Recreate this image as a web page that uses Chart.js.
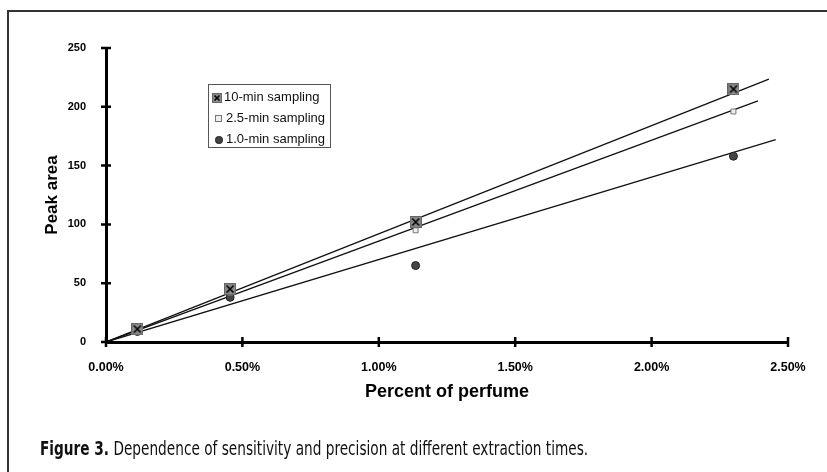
<!DOCTYPE html>
<html>
<head>
<meta charset="utf-8">
<script src="https://cdn.jsdelivr.net/npm/chart.js@4.4.1/dist/chart.umd.min.js"></script>
<style>
  body { margin: 0; background: #fff; }
  #wrap { position: relative; width: 827px; height: 472px; overflow: hidden; }
  #frame { position: absolute; left: 7px; top: 10px; width: 840px; height: 480px;
           border-left: 2px solid #333; border-top: 2px solid #333; }
  #legend { position: absolute; left: 208px; top: 84px; width: 121px; height: 62px;
            border: 1px solid #555; background: #fff;
            font: 13px "Liberation Sans", Arial, sans-serif; color: #111; }
  .row { position: absolute; left: 3px; height: 16px; line-height: 16px; white-space: nowrap; }
  .mk { display: inline-block; vertical-align: middle; margin-right: 2px; box-sizing: border-box; }
  #caption { position: absolute; left: 40px; top: 437px; white-space: nowrap;
             transform: scaleX(0.8); transform-origin: 0 0;
             font: 19px "DejaVu Sans Condensed", "DejaVu Sans", sans-serif; color: #111; }
  #caption b { font-weight: bold; }
</style>
</head>
<body>
<div id="wrap">
  <div id="frame"></div>
  <canvas id="chart" width="827" height="472" style="position:absolute;left:0;top:0"></canvas>
  <div id="legend">
    <div class="row" style="top:4px"><span class="mk" id="lg10"></span>10-min sampling</div>
    <div class="row" style="top:25px"><span class="mk" style="width:7px;height:7px;margin:0 4px 0 3px;background:#eee;border:1px solid #777"></span>2.5-min sampling</div>
    <div class="row" style="top:46px"><span class="mk" style="width:8px;height:8px;margin:0 3px 0 3px;background:#444;border:1px solid #222;border-radius:45%"></span>1.0-min sampling</div>
  </div>
  <div id="caption"><b>Figure 3.</b> Dependence of sensitivity and precision at different extraction times.</div>
</div>
<script>
// Percent of perfume (x) and peak areas
const percentPerfume = [0.115, 0.455, 1.135, 2.30];
const area10min = [11, 45, 102, 215];
const area25min = [10, 42, 95, 196];
const area1min = [9, 38, 65, 158];

// trend line end points (lines start at the origin)
const trendEndX = [2.43, 2.39, 2.455];
const trendEndY = [223.5, 205, 172];

const xTicks = [0, 0.5, 1, 1.5, 2, 2.5];
const yTicks = [0, 50, 100, 150, 200, 250];

// gray square with an X for the 10-min series
function crossBox(size) {
  const c = document.createElement('canvas');
  c.width = size; c.height = size;
  const g = c.getContext('2d');
  g.fillStyle = '#8a8a8a';
  g.fillRect(0, 0, size, size);
  g.strokeStyle = '#666';
  g.lineWidth = 1;
  g.strokeRect(0.5, 0.5, size - 1, size - 1);
  g.strokeStyle = '#000';
  g.lineWidth = 1.6;
  g.beginPath();
  g.moveTo(2.5, 2.5); g.lineTo(size - 2.5, size - 2.5);
  g.moveTo(size - 2.5, 2.5); g.lineTo(2.5, size - 2.5);
  g.stroke();
  return c;
}
const boxImg = crossBox(12);
const lg = document.getElementById('lg10');
lg.appendChild(crossBox(10));
lg.style.lineHeight = '0';

function pts(ys) {
  return percentPerfume.map((x, i) => ({ x: x, y: ys[i] }));
}
function trend(i) {
  return [{ x: 0, y: 0 }, { x: trendEndX[i], y: trendEndY[i] }];
}

// ticks that cross the axis line
const crossTicks = {
  id: 'crossTicks',
  afterDraw(chart) {
    const ctx = chart.ctx;
    const xs = chart.scales.x, ys = chart.scales.y;
    const area = chart.chartArea;
    ctx.save();
    ctx.strokeStyle = '#000';
    ctx.lineWidth = 2.5;
    ctx.beginPath();
    xTicks.forEach(v => {
      const px = xs.getPixelForValue(v);
      ctx.moveTo(px, area.bottom - 5);
      ctx.lineTo(px, area.bottom + 5);
    });
    yTicks.forEach(v => {
      const py = ys.getPixelForValue(v);
      ctx.moveTo(area.left - 5, py);
      ctx.lineTo(area.left + 5, py);
    });
    ctx.stroke();
    ctx.restore();
  }
};

const lineStyle = { type: 'line', borderColor: '#111', borderWidth: 1.3, pointRadius: 0, fill: false, order: 2 };

new Chart(document.getElementById('chart'), {
  type: 'scatter',
  data: {
    datasets: [
      { label: '10-min sampling', data: pts(area10min), pointStyle: boxImg, order: 0 },
      { label: '2.5-min sampling', data: pts(area25min), pointStyle: 'rect', pointRadius: 3.5,
        backgroundColor: '#eee', borderColor: '#777', borderWidth: 1, order: 0 },
      { label: '1.0-min sampling', data: pts(area1min), pointStyle: 'circle', pointRadius: 4,
        backgroundColor: '#444', borderColor: '#222', borderWidth: 1, order: 0 },
      Object.assign({ label: 'trend 10', data: trend(0) }, lineStyle),
      Object.assign({ label: 'trend 2.5', data: trend(1) }, lineStyle),
      Object.assign({ label: 'trend 1.0', data: trend(2) }, lineStyle)
    ]
  },
  options: {
    responsive: false,
    animation: false,
    layout: { padding: { left: 42, top: 48, right: 39, bottom: 69 } },
    plugins: { legend: { display: false }, tooltip: { enabled: false } },
    scales: {
      x: {
        type: 'linear', min: 0, max: 2.5,
        afterBuildTicks: s => { s.ticks = xTicks.map(v => ({ value: v })); },
        afterFit: s => { s.height = 61; },
        grid: { display: false },
        border: { display: true, color: '#000', width: 3 },
        ticks: { padding: 10, color: '#000', font: { family: 'Liberation Sans', size: 12.5, weight: 'bold' },
                 callback: v => v.toFixed(2) + '%', maxRotation: 0 },
        title: { display: true, text: 'Percent of perfume', color: '#000', padding: 0,
                 font: { family: 'Liberation Sans', size: 18, weight: 'bold' } }
      },
      y: {
        type: 'linear', min: 0, max: 250,
        afterBuildTicks: s => { s.ticks = yTicks.map(v => ({ value: v })); },
        afterFit: s => { s.width = 64; },
        grid: { display: false },
        border: { display: true, color: '#000', width: 3 },
        ticks: { padding: 12, color: '#000', font: { family: 'Liberation Sans', size: 11, weight: 'bold' } },
        title: { display: true, text: 'Peak area', color: '#000', padding: 0,
                 font: { family: 'Liberation Sans', size: 17, weight: 'bold' } }
      }
    }
  },
  plugins: [crossTicks]
});
</script>
</body>
</html>
